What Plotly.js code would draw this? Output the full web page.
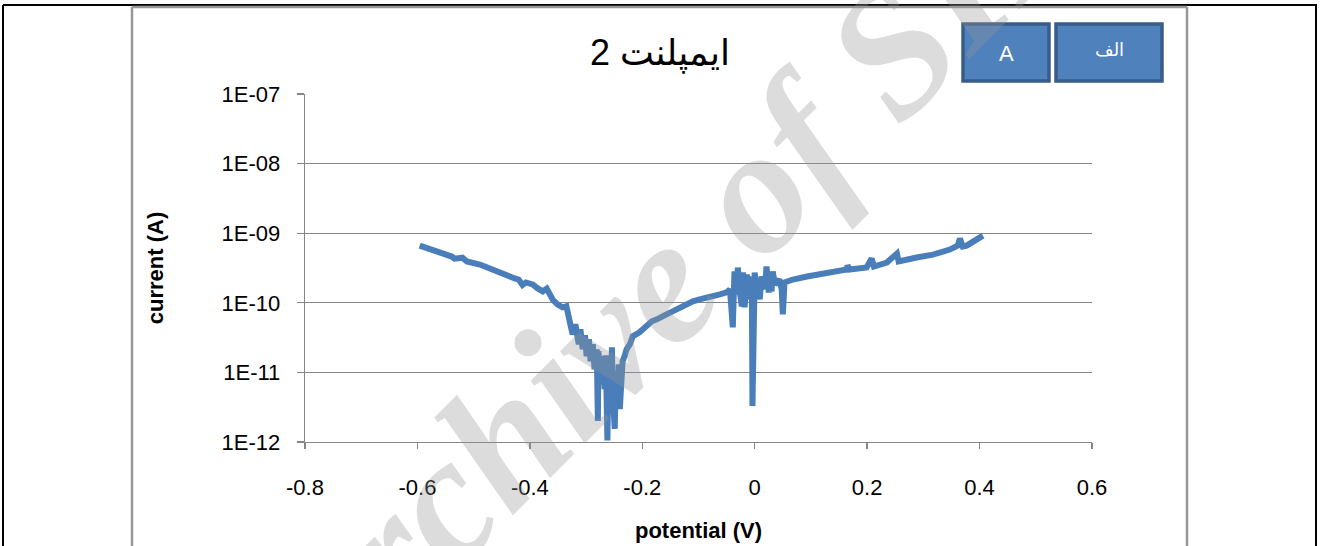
<!DOCTYPE html>
<html><head><meta charset="utf-8">
<script src="https://cdn.plot.ly/plotly-3.0.1.min.js"></script>
<style>html,body{margin:0;padding:0;background:#fff;overflow:hidden;} #chart{width:1320px;height:546px;}</style>
</head><body><div id="chart"></div>
<script>
// ---- data ----
const potential = [
-0.596,-0.585,-0.573,-0.560,-0.548,-0.539,-0.534,-0.527,-0.520,-0.512,-0.500,-0.489,-0.480,-0.472,-0.463,-0.454,-0.445,-0.436,-0.427,-0.420,
-0.413,-0.407,-0.400,-0.395,-0.386,-0.377,-0.370,-0.365,-0.359,-0.351,-0.342,-0.335,-0.329,-0.324,-0.319,-0.313,-0.310,-0.306,-0.302,-0.299,
-0.295,-0.292,-0.288,-0.285,-0.281,-0.279,-0.278,-0.274,-0.270,-0.267,-0.265,-0.262,-0.260,-0.256,-0.254,-0.253,-0.249,-0.247,-0.244,-0.242,
-0.240,-0.238,-0.237,-0.235,-0.231,-0.228,-0.222,-0.217,-0.205,-0.192,-0.183,-0.174,-0.165,-0.157,-0.146,-0.133,-0.121,-0.110,-0.098,-0.087,
-0.075,-0.062,-0.050,-0.044,-0.039,-0.037,-0.036,-0.032,-0.030,-0.027,-0.023,-0.021,-0.018,-0.014,-0.011,-0.009,-0.005,-0.004,-0.002,0.000,
0.004,0.005,0.009,0.012,0.018,0.021,0.025,0.027,0.030,0.032,0.036,0.039,0.044,0.048,0.050,0.053,0.062,0.068,0.093,0.116,
0.142,0.164,0.165,0.169,0.199,0.208,0.212,0.235,0.253,0.256,0.288,0.317,0.347,0.361,0.365,0.370,0.377,0.388,0.397,0.406
];
const current = [
6.64e-10,6.22e-10,5.63e-10,5.27e-10,4.93e-10,4.62e-10,4.30e-10,4.40e-10,4.45e-10,3.92e-10,3.79e-10,3.55e-10,3.32e-10,3.11e-10,2.91e-10,2.73e-10,2.55e-10,2.39e-10,2.24e-10,2.16e-10,
1.80e-10,1.96e-10,1.90e-10,1.84e-10,1.61e-10,1.46e-10,1.60e-10,1.36e-10,1.10e-10,9.5e-11,8.6e-11,8.9e-11,5.78e-11,3.52e-11,4.90e-11,2.54e-11,4.16e-11,2.15e-11,3.41e-11,1.71e-11,
3.0e-11,1.45e-11,2.54e-11,1.11e-11,2.15e-11,2.0e-12,2.01e-11,6.78e-12,1.71e-11,5.74e-12,1.76e-11,1.05e-12,1.45e-11,4.13e-12,2.30e-11,5.74e-12,1.54e-12,1.04e-11,4.87e-12,1.31e-11,
2.97e-12,9.42e-12,4.56e-12,1.45e-11,1.76e-11,2.15e-11,2.54e-11,3.30e-11,3.77e-11,4.59e-11,5.42e-11,5.78e-11,6.18e-11,6.82e-11,7.53e-11,8.6e-11,9.5e-11,1.05e-10,1.12e-10,1.16e-10,
1.24e-10,1.32e-10,1.41e-10,1.56e-10,4.44e-11,1.84e-10,2.82e-10,1.32e-10,3.21e-10,1.56e-10,8.9e-11,2.73e-10,8.6e-11,2.55e-10,1.12e-10,2.39e-10,1.32e-10,3.28e-12,1.56e-10,2.73e-10,
1.12e-10,1.84e-10,1.12e-10,2.39e-10,1.56e-10,3.32e-10,1.41e-10,2.16e-10,1.46e-10,2.82e-10,1.84e-10,1.96e-10,2.16e-10,1.56e-10,6.82e-11,1.96e-10,2.09e-10,2.16e-10,2.39e-10,2.55e-10,
2.82e-10,3.01e-10,3.43e-10,3.01e-10,3.21e-10,4.33e-10,3.32e-10,3.79e-10,5.1e-10,3.92e-10,4.47e-10,4.93e-10,5.82e-10,6.64e-10,8.36e-10,6.43e-10,6.64e-10,7.58e-10,8.09e-10,9.23e-10
];
const yTickVals = [1e-12, 1e-11, 1e-10, 1e-9, 1e-8, 1e-7];
const yTickText = ['1E-12', '1E-11', '1E-10', '1E-09', '1E-08', '1E-07'];
const xTickVals = [-0.8, -0.6, -0.4, -0.2, 0, 0.2, 0.4, 0.6];
const xTickText = ['-0.8', '-0.6', '-0.4', '-0.2', '0', '0.2', '0.4', '0.6'];
const chartTitle = 'ایمپلنت 2';
const xTitle = 'potential (V)';
const yTitle = 'current (A)';
const boxLabels = ['A', 'الف'];
const watermarkText = 'Archive of SID';

// ---- layout helpers (pixel -> paper) ----
const L = 305, R = 1092, T = 94, B = 442;
const px = x => (x - L) / (R - L);
const py = y => (B - y) / (B - T);
const FONT = 'Liberation Sans, Arial, DejaVu Sans, sans-serif';
const GRID = '#868686';

const trace = {
  x: potential, y: current, type: 'scatter', mode: 'lines',
  line: {color: '#4A7EBB', width: 6}, hoverinfo: 'skip', showlegend: false
};

const shapes = [
  {type:'line', xref:'paper', yref:'paper', x0:px(3), x1:px(1317), y0:py(5), y1:py(5), line:{color:'#000', width:2}},
  {type:'line', xref:'paper', yref:'paper', x0:px(3), x1:px(3), y0:py(5), y1:py(560), line:{color:'#000', width:2}},
  {type:'line', xref:'paper', yref:'paper', x0:px(1316), x1:px(1316), y0:py(5), y1:py(560), line:{color:'#000', width:2}},
  {type:'line', xref:'paper', yref:'paper', x0:px(132), x1:px(1187), y0:py(7), y1:py(7), line:{color:'#989898', width:2.5}},
  {type:'line', xref:'paper', yref:'paper', x0:px(132), x1:px(132), y0:py(7), y1:py(560), line:{color:'#989898', width:2.5}},
  {type:'line', xref:'paper', yref:'paper', x0:px(1187), x1:px(1187), y0:py(7), y1:py(560), line:{color:'#989898', width:2.5}},
  {type:'rect', xref:'paper', yref:'paper', x0:px(963), x1:px(1049), y0:py(81), y1:py(24), fillcolor:'#4F81BD', line:{color:'#385D8A', width:3.5}},
  {type:'rect', xref:'paper', yref:'paper', x0:px(1056), x1:px(1162), y0:py(81), y1:py(24), fillcolor:'#4F81BD', line:{color:'#385D8A', width:3.5}}
];

const annotations = [
  {xref:'paper', yref:'paper', x:px(1006), y:py(54), text:boxLabels[0], showarrow:false, xanchor:'center', yanchor:'middle',
   font:{family:FONT, size:22, color:'#fff'}},
  {xref:'paper', yref:'paper', x:px(1109), y:py(50), text:boxLabels[1], showarrow:false, xanchor:'center', yanchor:'middle',
   font:{family:FONT, size:18, color:'#fff'}},
  {xref:'paper', yref:'paper', x:px(669), y:py(273), text:watermarkText, showarrow:false, xanchor:'center', yanchor:'middle',
   textangle:-45, font:{family:'Liberation Serif, Times New Roman, serif', size:180, style:'italic', weight:'bold', color:'rgba(150,150,150,0.33)'}}
];

const layout = {
  width: 1320, height: 546,
  margin: {l: L, r: 1320 - R, t: T, b: 546 - B, pad: 0},
  paper_bgcolor: '#fff', plot_bgcolor: '#fff',
  font: {family: FONT, size: 22, color: '#000'},
  title: {text: chartTitle, x: 660/1320, xref: 'container', xanchor: 'center', y: 1 - 52/546, yref: 'container', yanchor: 'middle',
          font: {family: FONT, size: 36, color: '#000'}},
  xaxis: {
    range: [-0.8, 0.6], tickvals: xTickVals, ticktext: xTickText,
    showgrid: false, zeroline: false, showline: true, linecolor: GRID, linewidth: 1.3,
    ticks: 'outside', ticklen: 6, tickcolor: GRID, tickwidth: 1.3, ticklabelstandoff: 19,
    tickfont: {family: FONT, size: 22, color: '#000'},
    title: {text: xTitle, standoff: 24, font: {family: FONT, size: 22, color: '#000', weight: 'bold'}}
  },
  yaxis: {
    type: 'log', range: [-12, -7], tickvals: yTickVals, ticktext: yTickText,
    showgrid: true, gridcolor: GRID, gridwidth: 1.3, zeroline: false, showline: true, linecolor: GRID, linewidth: 1.3,
    ticks: 'outside', ticklen: 7, tickcolor: GRID, tickwidth: 1.3, ticklabelstandoff: 12,
    tickfont: {family: FONT, size: 22, color: '#000'},
    title: {text: yTitle, standoff: 52, font: {family: FONT, size: 22, color: '#000', weight: 'bold'}}
  },
  shapes: shapes,
  annotations: annotations
};

Plotly.newPlot('chart', [trace], layout, {staticPlot: true, displayModeBar: false});
</script>
</body></html>
